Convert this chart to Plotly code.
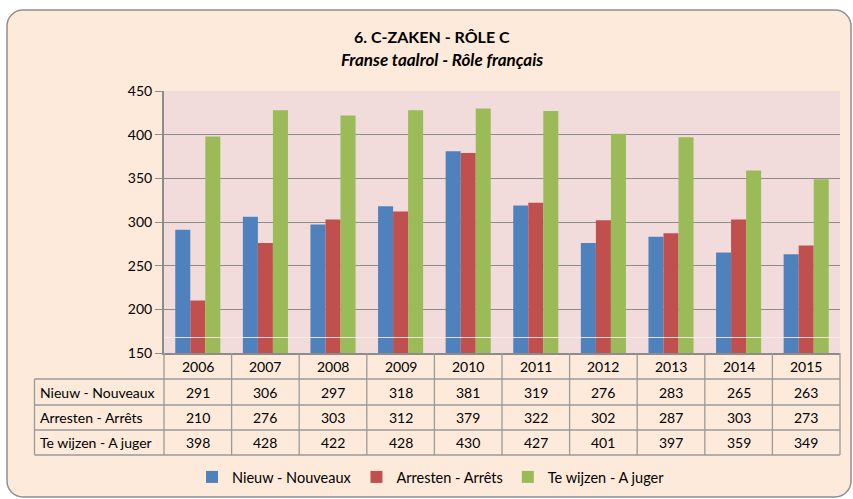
import plotly.graph_objects as go

years = ["2006", "2007", "2008", "2009", "2010", "2011", "2012", "2013", "2014", "2015"]
series_names = ["Nieuw - Nouveaux", "Arresten - Arrêts", "Te wijzen - A juger"]
nieuw = [291, 306, 297, 318, 381, 319, 276, 283, 265, 263]
arresten = [210, 276, 303, 312, 379, 322, 302, 287, 303, 273]
te_wijzen = [398, 428, 422, 428, 430, 427, 401, 397, 359, 349]
colors = ["#4F81BD", "#C0504D", "#9BBB59"]
y_ticks = [150, 200, 250, 300, 350, 400, 450]

title_main = "6. C-ZAKEN - RÔLE C"
title_sub = "Franse taalrol - Rôle français"

W, H = 853, 499
L, R, T, B = 164, 840, 91, 353
FONT = "Lato, Carlito, Calibri, sans-serif"
TXT = "#000000"
GRID = "#8C8C8C"
TBL = "#9A9A9A"


def xp(px):
    return (px - L) / (R - L)


def yp(py):
    return (B - py) / (B - T)


fig = go.Figure()
for name, vals, col in zip(series_names, [nieuw, arresten, te_wijzen], colors):
    fig.add_trace(go.Bar(x=years, y=vals, name=name, marker=dict(color=col, line=dict(width=0)),
                         hoverinfo="x+y+name"))

shapes = []

# outer rounded rectangle
x0, x1, y0, y1, r = 7, 851, 10, 497, 16
k = 0.45
def P(px, py):
    return f"{xp(px):.6f},{yp(py):.6f}"
path = (f"M{P(x0 + r, y0)} L{P(x1 - r, y0)} C{P(x1 - r * k, y0)} {P(x1, y0 + r * k)} {P(x1, y0 + r)} "
        f"L{P(x1, y1 - r)} C{P(x1, y1 - r * k)} {P(x1 - r * k, y1)} {P(x1 - r, y1)} "
        f"L{P(x0 + r, y1)} C{P(x0 + r * k, y1)} {P(x0, y1 - r * k)} {P(x0, y1 - r)} "
        f"L{P(x0, y0 + r)} C{P(x0, y0 + r * k)} {P(x0 + r * k, y0)} {P(x0 + r, y0)} Z")
shapes.append(dict(type="path", path=path, xref="paper", yref="paper", layer="below",
                   fillcolor="#FDEADA", line=dict(color="#8F8F8F", width=1.5)))
# plot area background
shapes.append(dict(type="rect", xref="paper", yref="paper", x0=0, x1=1, y0=0, y1=1,
                   layer="below", fillcolor="#F2DCDB", line=dict(width=0)))

# faint light line across plot
shapes.append(dict(type="line", xref="paper", yref="paper", x0=0, x1=1, y0=yp(337.5), y1=yp(337.5),
                   layer="above", line=dict(color="rgba(250,240,235,0.85)", width=1)))

# table lines
row_edges = [379, 405, 430, 455]
for ry in row_edges:
    shapes.append(dict(type="line", xref="paper", yref="paper", x0=xp(34.5), x1=1,
                       y0=yp(ry), y1=yp(ry), line=dict(color=TBL, width=1.3)))
shapes.append(dict(type="line", xref="paper", yref="paper", x0=xp(34.5), x1=xp(34.5),
                   y0=yp(379), y1=yp(455), line=dict(color=TBL, width=1.3)))
for i in range(len(years) + 1):
    shapes.append(dict(type="line", xref="paper", yref="paper",
                       x0=i / len(years), x1=i / len(years), y0=0, y1=yp(455),
                       line=dict(color=TBL, width=1.3)))

annotations = [
    dict(text=f"<b>{title_main}</b>", xref="paper", yref="paper", x=xp(432), y=yp(36),
         xanchor="center", yanchor="middle",
         showarrow=False, font=dict(size=16, family=FONT, color=TXT)),
    dict(text=f"<b><i>{title_sub}</i></b>", xref="paper", yref="paper", x=xp(442), y=yp(59),
         xanchor="center", yanchor="middle",
         showarrow=False, font=dict(size=17, family=FONT, color=TXT)),
]
header_y = yp(366)
row_y = [yp(392), yp(417.5), yp(442.5)]
for i, yr in enumerate(years):
    annotations.append(dict(text=yr, x=i, xref="x", y=header_y, yref="paper", showarrow=False,
                            xanchor="center", yanchor="middle",
                            font=dict(size=14, family=FONT, color=TXT)))
for name, vals, ry in zip(series_names, [nieuw, arresten, te_wijzen], row_y):
    annotations.append(dict(text=name, xref="paper", x=xp(38), xanchor="left", y=ry, yref="paper",
                            yanchor="middle",
                            showarrow=False, font=dict(size=14, family=FONT, color=TXT)))
    for i, v in enumerate(vals):
        annotations.append(dict(text=str(v), x=i, xref="x", y=ry, yref="paper", showarrow=False,
                                xanchor="center", yanchor="middle",
                                font=dict(size=14, family=FONT, color=TXT)))

fig.update_layout(
    width=W, height=H,
    margin=dict(l=L, r=W - R, t=T, b=H - B, pad=0, autoexpand=False),
    paper_bgcolor="white", plot_bgcolor="rgba(0,0,0,0)",
    barmode="group", bargap=0.333, bargroupgap=0,
    font=dict(family=FONT, size=14, color=TXT),
    showlegend=True,
    legend=dict(orientation="h", x=xp(431), xanchor="center", y=yp(477), yanchor="middle",
                bgcolor="rgba(0,0,0,0)", font=dict(size=14.5, family=FONT, color=TXT),
                itemwidth=30, traceorder="normal"),
    xaxis=dict(type="category", showticklabels=False, ticks="", showgrid=False,
               showline=True, linecolor=GRID, linewidth=2, range=[-0.5, len(years) - 0.5],
               fixedrange=True),
    yaxis=dict(range=[150, 450], tickvals=y_ticks, ticks="outside", ticklen=7, tickwidth=1.3,
               tickcolor=GRID, showgrid=True, gridcolor=GRID, gridwidth=1.3,
               showline=True, linecolor=GRID, linewidth=2, zeroline=False,
               tickfont=dict(size=14, family=FONT, color=TXT), fixedrange=True),
    shapes=shapes,
    annotations=annotations,
)

fig.write_html("out.html", config={"displayModeBar": False},
               post_script="document.body.style.margin='0';document.body.style.overflow='hidden';")
